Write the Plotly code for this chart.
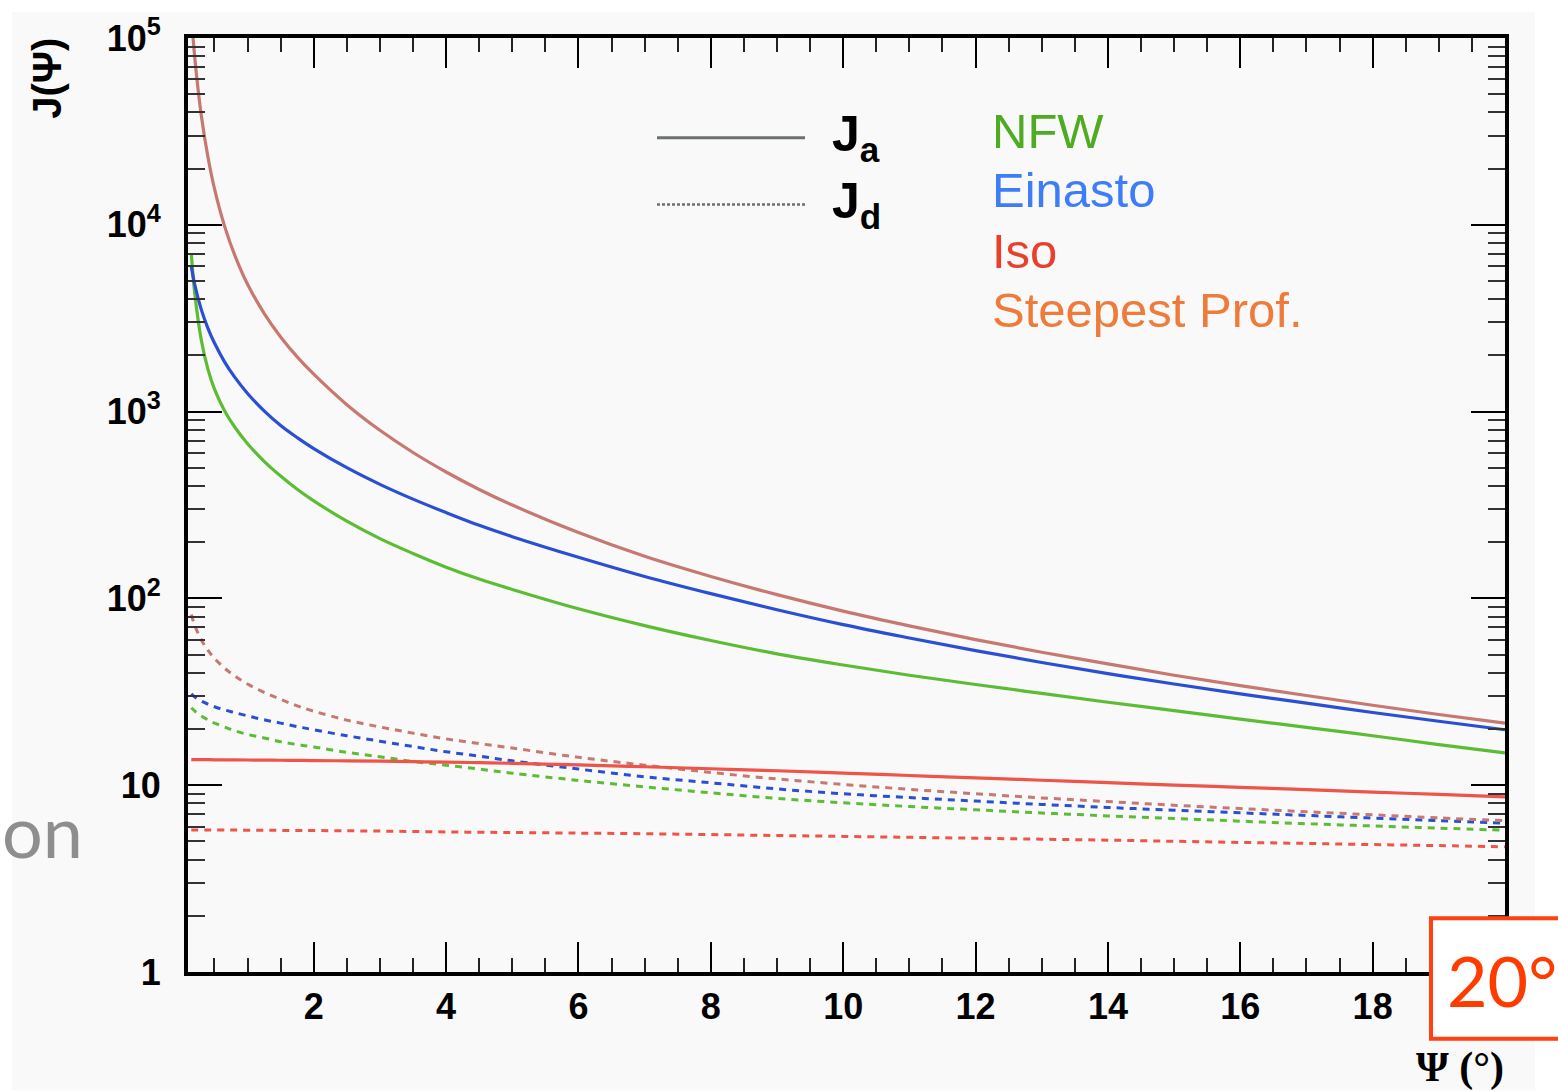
import plotly.graph_objects as go

# ---------------- data ----------------
psi = [0.15, 0.2, 0.3, 0.4, 0.5, 0.65, 0.8, 1.0, 1.25, 1.5, 1.75, 2, 2.5, 3, 3.5, 4,
       4.5, 5, 6, 7, 8, 9, 10, 11, 12, 13, 14, 15, 16, 17, 18, 19, 20]

steep_a = [135000, 80000, 38700, 23200, 15600, 9900, 6970, 4800, 3360, 2510, 1963,
           1585, 1089, 794, 604, 475, 383, 316, 225, 168, 131, 104.7, 85.5, 71.3,
           60.2, 51.5, 44.6, 38.8, 34.1, 30.2, 26.8, 23.9, 21.5]
einasto_a = [5980, 4820, 3525, 2800, 2328, 1853, 1538, 1250, 1009, 843, 726, 634,
             501, 408, 340, 288, 246, 214, 166, 131, 106, 87, 72.4, 61.4, 52.5, 45.4,
             39.6, 34.8, 30.8, 27.5, 24.5, 22.0, 19.8]
nfw_a = [7020, 4365, 2427, 1694, 1318, 1014, 832, 673, 542, 452, 384, 333, 259,
         209, 174, 147, 127, 111.7, 88.0, 71.5, 59.5, 50.5, 44.0, 38.8, 34.6, 31.0,
         27.8, 25.1, 22.6, 20.4, 18.4, 16.5, 14.9]
iso_a = [13.7, 13.7, 13.7, 13.7, 13.68, 13.67, 13.66, 13.64, 13.62, 13.6, 13.58,
         13.55, 13.5, 13.44, 13.37, 13.3, 13.2, 13.1, 12.85, 12.55, 12.25, 11.95,
         11.6, 11.27, 10.95, 10.63, 10.32, 10.02, 9.74, 9.46, 9.19, 8.92, 8.66]

steep_d = [82, 72.1, 60.1, 52.8, 47.8, 42.4, 38.6, 34.8, 31.4, 28.8, 26.6, 24.9,
           22.3, 20.5, 19.0, 17.7, 16.7, 15.8, 14.1, 12.8, 11.7, 10.8, 10.1, 9.5,
           9.0, 8.55, 8.17, 7.81, 7.50, 7.21, 6.94, 6.68, 6.46]
einasto_d = [30.8, 29.7, 28.2, 27.2, 26.3, 25.3, 24.5, 23.5, 22.4, 21.5, 20.6, 19.8,
             18.4, 17.2, 16.1, 15.1, 14.3, 13.5, 12.2, 11.1, 10.3, 9.55, 9.0, 8.58,
             8.22, 7.89, 7.60, 7.35, 7.11, 6.89, 6.67, 6.46, 6.27]
nfw_d = [26.0, 25.0, 23.5, 22.4, 21.5, 20.5, 19.6, 18.7, 17.9, 17.1, 16.5, 16.0,
         15.0, 14.2, 13.4, 12.8, 12.2, 11.6, 10.6, 9.8, 9.1, 8.5, 8.05, 7.69, 7.38,
         7.10, 6.85, 6.63, 6.42, 6.22, 6.05, 5.89, 5.74]
iso_d = [5.75, 5.75, 5.75, 5.75, 5.75, 5.75, 5.75, 5.74, 5.74, 5.73, 5.725, 5.72,
         5.70, 5.68, 5.65, 5.62, 5.60, 5.58, 5.54, 5.50, 5.44, 5.38, 5.32, 5.26,
         5.20, 5.14, 5.08, 5.01, 4.94, 4.88, 4.81, 4.75, 4.68]

x_ticks = [2, 4, 6, 8, 10, 12, 14, 16, 18]
y_ticks = [1, 10, 100, 1000, 10000, 100000]
y_ticktext = ["1", "10", "10<sup>2</sup>", "10<sup>3</sup>", "10<sup>4</sup>", "10<sup>5</sup>"]

profiles = ["NFW", "Einasto", "Iso", "Steepest Prof."]
line_colors = {"NFW": "#5cbd34", "Einasto": "#2a4fd2", "Iso": "#ef5448", "Steepest Prof.": "#c67871"}
label_colors = {"NFW": "#4fac22", "Einasto": "#3d7df7", "Iso": "#e9402e", "Steepest Prof.": "#ef7b3b"}

# ---------------- geometry helpers ----------------
W, H = 1558, 1091
L, R, T, B = 188, 1505, 35, 972


def xp(px):
    return (px - L) / (R - L)


def yp(py):
    return (B - py) / (B - T)


fig = go.Figure()

solid = {"NFW": nfw_a, "Einasto": einasto_a, "Iso": iso_a, "Steepest Prof.": steep_a}
dashed = {"NFW": nfw_d, "Einasto": einasto_d, "Iso": iso_d, "Steepest Prof.": steep_d}

for name in profiles:
    fig.add_trace(go.Scatter(x=psi, y=dashed[name], mode="lines", name=name + " Jd",
                             line=dict(color=line_colors[name], width=3, dash="7px,6px",
                                       shape="spline", smoothing=1.0),
                             showlegend=False))
for name in profiles:
    fig.add_trace(go.Scatter(x=psi, y=solid[name], mode="lines", name=name + " Ja",
                             line=dict(color=line_colors[name], width=3.2,
                                       shape="spline", smoothing=1.0),
                             showlegend=False))

tickfont = dict(family="Liberation Sans", size=36, color="black", weight="bold")

fig.update_xaxes(range=[0.1, 20], tickvals=x_ticks, ticks="inside", ticklen=30,
                 tickwidth=2, tickcolor="black", showline=True, linewidth=4,
                 linecolor="black", mirror="ticks", showgrid=False, zeroline=False,
                 tickfont=tickfont, ticklabelstandoff=0,
                 minor=dict(dtick=0.5, ticks="inside", ticklen=14, tickwidth=2,
                            tickcolor="#222", showgrid=False))
fig.update_yaxes(type="log", range=[0, 5], tickvals=y_ticks, ticktext=y_ticktext,
                 ticks="inside", ticklen=34, tickwidth=2, tickcolor="black",
                 showline=True, linewidth=4, linecolor="black", mirror="ticks",
                 showgrid=False, zeroline=False, tickfont=tickfont,
                 ticklabelstandoff=16,
                 minor=dict(dtick="D1", ticks="inside", ticklen=17, tickwidth=2,
                            tickcolor="#333", showgrid=False))

shapes = [
    # grey page background
    dict(type="rect", xref="paper", yref="paper", x0=xp(12), x1=xp(1535),
         y0=yp(1091), y1=yp(9), fillcolor="#f9f9f9", line=dict(width=0), layer="below"),
    # legend lines
    dict(type="line", xref="paper", yref="paper", x0=xp(657), x1=xp(805),
         y0=yp(135), y1=yp(135), line=dict(color="#6b7171", width=3)),
    dict(type="line", xref="paper", yref="paper", x0=xp(657), x1=xp(805),
         y0=yp(202), y1=yp(202), line=dict(color="#6b7171", width=2.5, dash="3px,2px")),
    # 20° box
    dict(type="rect", xref="paper", yref="paper", x0=xp(1431), x1=xp(1575),
         y0=yp(1039), y1=yp(918), fillcolor="white",
         line=dict(color="#ff4012", width=4), layer="above"),
]

annotations = [
    dict(text="<b>J</b><sub><b>a</b></sub>", x=xp(830), y=yp(135), xanchor="left",
         yanchor="middle", font=dict(family="Liberation Sans", size=50, color="black")),
    dict(text="<b>J</b><sub><b>d</b></sub>", x=xp(830), y=yp(202), xanchor="left",
         yanchor="middle", font=dict(family="Liberation Sans", size=50, color="black")),
    dict(text="<b>J(Ψ)</b>", x=xp(47), y=yp(76), textangle=-90, xanchor="center",
         yanchor="middle", font=dict(family="Liberation Sans", size=40, color="black")),
    dict(text="Ψ (°)", x=xp(1506), y=yp(1093), xanchor="right", yanchor="bottom",
         font=dict(family="Liberation Serif", size=42, color="black", weight="bold")),
    dict(text="20°", x=xp(1445), y=yp(980), xanchor="left", yanchor="middle",
         font=dict(family="Lato", size=70, color="#ff3c00")),
    dict(text="on", x=xp(0), y=yp(830), xanchor="left", yanchor="middle",
         font=dict(family="Lato", size=72, color="#8e8e8e")),
]
label_y = {"NFW": 128, "Einasto": 187, "Iso": 249, "Steepest Prof.": 308}
for name in profiles:
    annotations.append(dict(text=name, x=xp(990), y=yp(label_y[name]), xanchor="left",
                            yanchor="middle",
                            font=dict(family="Liberation Sans", size=49,
                                      color=label_colors[name])))
for a in annotations:
    a.update(xref="paper", yref="paper", showarrow=False)

fig.update_layout(width=W, height=H, autosize=False,
                  margin=dict(l=L, r=W - R, t=T, b=H - B, pad=0),
                  paper_bgcolor="white", plot_bgcolor="#f9f9f9",
                  shapes=shapes, annotations=annotations, showlegend=False)

fig.write_html("out.html")
